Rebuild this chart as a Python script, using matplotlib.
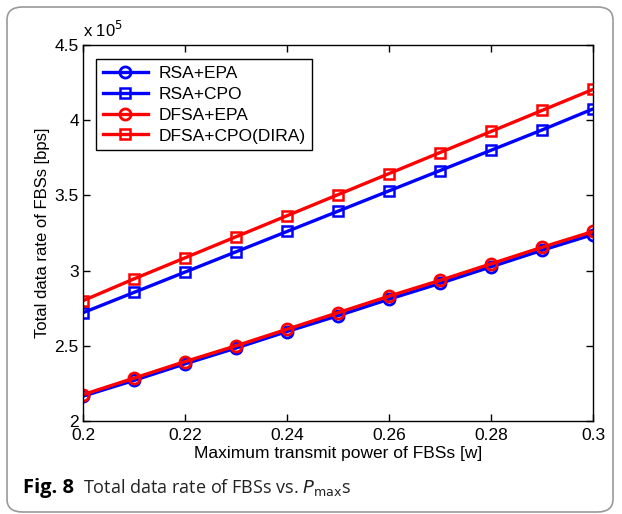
import numpy as np
import matplotlib
matplotlib.use('Agg')
import matplotlib.pyplot as plt
from matplotlib.patches import FancyBboxPatch

# data (units of 1e5 bps)
pmax = [0.20, 0.21, 0.22, 0.23, 0.24, 0.25, 0.26, 0.27, 0.28, 0.29, 0.30]
rsa_epa = [2.165, 2.27, 2.38, 2.485, 2.595, 2.70, 2.81, 2.915, 3.025, 3.135, 3.24]
rsa_cpo = [2.72, 2.855, 2.99, 3.125, 3.26, 3.395, 3.53, 3.665, 3.80, 3.935, 4.075]
dfsa_epa = [2.175, 2.285, 2.395, 2.50, 2.61, 2.72, 2.83, 2.935, 3.045, 3.155, 3.26]
dfsa_cpo = [2.80, 2.945, 3.085, 3.225, 3.365, 3.505, 3.645, 3.785, 3.925, 4.065, 4.205]
xticks = [0.2, 0.22, 0.24, 0.26, 0.28, 0.3]
yticks = [2, 2.5, 3, 3.5, 4, 4.5]

plt.rcParams['font.family'] = ['Liberation Sans', 'DejaVu Sans']

W, H = 622, 514
fig = plt.figure(figsize=(W / 100, H / 100), dpi=100)
ax = fig.add_axes([83 / W, 1 - 421 / H, 510 / W, 376 / H])

# rounded frame around the figure
box = FancyBboxPatch((7 / W, 1 - 512 / H), 606 / W, 505 / H,
                     boxstyle='round,pad=0,rounding_size=0.025',
                     transform=fig.transFigure, fill=False,
                     edgecolor='#9a9a9a', linewidth=1.2)
fig.patches.append(box)

lw = 2.4
ax.plot(pmax, rsa_epa, '-o', color='blue', lw=lw, ms=8, mew=2, mfc='none', label='RSA+EPA')
ax.plot(pmax, rsa_cpo, '-s', color='blue', lw=lw, ms=6.5, mew=1.8, mfc='none', label='RSA+CPO')
ax.plot(pmax, dfsa_epa, '-o', color='red', lw=lw, ms=8, mew=2, mfc='none', label='DFSA+EPA')
ax.plot(pmax, dfsa_cpo, '-s', color='red', lw=lw, ms=6.5, mew=1.8, mfc='none', label='DFSA+CPO(DIRA)')

ax.set_xlim(0.2, 0.3)
ax.set_ylim(2, 4.5)
ax.set_xticks(xticks)
ax.set_xticklabels(['0.2', '0.22', '0.24', '0.26', '0.28', '0.3'])
ax.set_yticks(yticks)
ax.set_yticklabels(['2', '2.5', '3', '3.5', '4', '4.5'])
ax.tick_params(direction='in', top=True, right=True, labelsize=12.5, length=5, width=1)
ax.tick_params(axis='x', pad=5)
ax.tick_params(axis='y', pad=3)
for s in ax.spines.values():
    s.set_linewidth(1)

ax.set_xlabel('Maximum transmit power of FBSs [w]', fontsize=12.5, labelpad=2)
ax.set_ylabel('Total data rate of FBSs [bps]', fontsize=12, labelpad=3)
ax.text(0.0, 1.012, r'x 10$^{5}$', transform=ax.transAxes, fontsize=12, va='bottom', ha='left')

leg = ax.legend(loc='upper left', bbox_to_anchor=(0.008, 0.985), fontsize=12.5,
                fancybox=False, edgecolor='black', framealpha=1,
                handlelength=2.6, handletextpad=0.6, borderpad=0.4, labelspacing=0.32)
leg.get_frame().set_linewidth(1)

fig.text(23 / W, 1 - 488 / H, 'Fig. 8', fontsize=14.5, fontweight='bold', va='center', ha='left',
         family=['Open Sans', 'DejaVu Sans'])
fig.text(83 / W, 1 - 488 / H, r'Total data rate of FBSs vs. $\mathit{P}_{\mathrm{max}}$s',
         fontsize=13, va='center', ha='left', color='#222222', family=['Open Sans', 'DejaVu Sans'])

fig.savefig('out.png', dpi=100)
